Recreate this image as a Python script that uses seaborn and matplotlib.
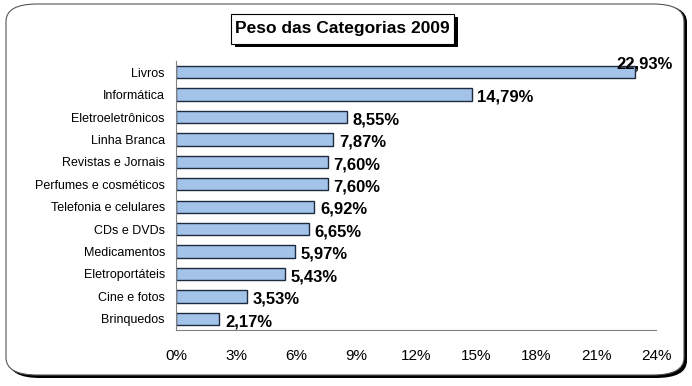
import matplotlib.pyplot as plt
import matplotlib.ticker as tick
from matplotlib.patches import FancyBboxPatch
import numpy as np
import pandas as pd
import seaborn as sns

CATEGORIES = [
    "Livros",
    "Informática",
    "Eletroeletrônicos",
    "Linha Branca",
    "Revistas e Jornais",
    "Perfumes e cosméticos",
    "Telefonia e celulares",
    "CDs e DVDs",
    "Medicamentos",
    "Eletroportáteis",
    "Cine e fotos",
    "Brinquedos",
]
SHARES = [22.93, 14.79, 8.55, 7.87, 7.60, 7.60, 6.92, 6.65, 5.97, 5.43, 3.53, 2.17]
X_TICKS = [0, 3, 6, 9, 12, 15, 18, 21, 24]
TITLE = "Peso das Categorias 2009"

BAR_COLOR = "#a3c4e8"
EDGE_COLOR = "#1e2a40"
SPINE_GREY = "#808080"

DPI = 100
FIGSIZE = (692 / DPI, 386 / DPI)

sns.set_style("white")
plt.rcParams["font.family"] = ["Liberation Sans", "DejaVu Sans"]
plt.rcParams["text.color"] = "black"
plt.rcParams["xtick.labelcolor"] = "black"
plt.rcParams["ytick.labelcolor"] = "black"

df = pd.DataFrame({"categoria": CATEGORIES, "peso": SHARES})

fig = plt.figure(figsize=FIGSIZE, dpi=DPI)

# outer frame: black shadow + white rounded box
W, H = 692, 386
shadow = FancyBboxPatch((9 / W, 8 / H), 678 / W, 373 / H,
                        boxstyle="round,pad=0,rounding_size=0.045",
                        transform=fig.transFigure, facecolor="black",
                        edgecolor="black", lw=0, zorder=0)
frame = FancyBboxPatch((6 / W, 11 / H), 678 / W, 371 / H,
                       boxstyle="round,pad=0,rounding_size=0.045",
                       transform=fig.transFigure, facecolor="white",
                       edgecolor="#555555", lw=0.8, zorder=1)
fig.patches.extend([shadow, frame])

ax = fig.add_axes([176 / W, 1 - 330 / H, 480 / W, 269 / H])
ax.set_zorder(2)
ax.patch.set_alpha(0)

sns.barplot(data=df, x="peso", y="categoria", orient="h", color=BAR_COLOR,
            edgecolor=EDGE_COLOR, linewidth=1.0, width=0.55, saturation=1,
            ax=ax)

ax.set_xlim(0, 24)
ax.set_xticks(X_TICKS)
ax.xaxis.set_major_formatter(tick.FuncFormatter(lambda v, p: f"{v:.0f}%"))
ax.set_xlabel("")
ax.set_ylabel("")

# category boundary ticks on y axis
ax.set_yticks(range(len(CATEGORIES)))
ax.set_yticklabels(CATEGORIES, fontsize=9)
ax.set_yticks(np.arange(-0.5, len(CATEGORIES), 1), minor=True)
ax.tick_params(axis="y", which="major", length=0, pad=8)
ax.tick_params(axis="y", which="minor", length=4, color=SPINE_GREY, direction="out")
ax.tick_params(axis="x", which="major", length=4, color=SPINE_GREY,
               direction="out", labelsize=11, pad=10)

for side in ["top", "right"]:
    ax.spines[side].set_visible(False)
for side in ["left", "bottom"]:
    ax.spines[side].set_color(SPINE_GREY)
    ax.spines[side].set_linewidth(0.8)

for i, v in enumerate(SHARES):
    label = f"{v:.2f}%".replace(".", ",")
    if i == 0:
        ax.annotate(label, (v, i), xytext=(-13, 6), textcoords="offset points",
                    ha="left", va="center", fontsize=12, fontweight="bold",
                    color="black", annotation_clip=False)
    else:
        ax.annotate(label, (v, i), xytext=(4, -2), textcoords="offset points",
                    ha="left", va="center", fontsize=12, fontweight="bold",
                    color="black")

# title box with shadow
fig.patches.append(FancyBboxPatch((235 / W, 1 - 47 / H), 223 / W, 30 / H,
                                  boxstyle="square,pad=0", transform=fig.transFigure,
                                  facecolor="black", edgecolor="black", lw=0, zorder=3))
fig.patches.append(FancyBboxPatch((231 / W, 1 - 44 / H), 223 / W, 30 / H,
                                  boxstyle="square,pad=0", transform=fig.transFigure,
                                  facecolor="white", edgecolor="black", lw=0.8, zorder=4))
fig.text(342 / W, 1 - 29 / H, TITLE, ha="center", va="center", fontsize=12.5,
         fontweight="bold", color="black", zorder=5)

plt.savefig("out.png", dpi=DPI)
